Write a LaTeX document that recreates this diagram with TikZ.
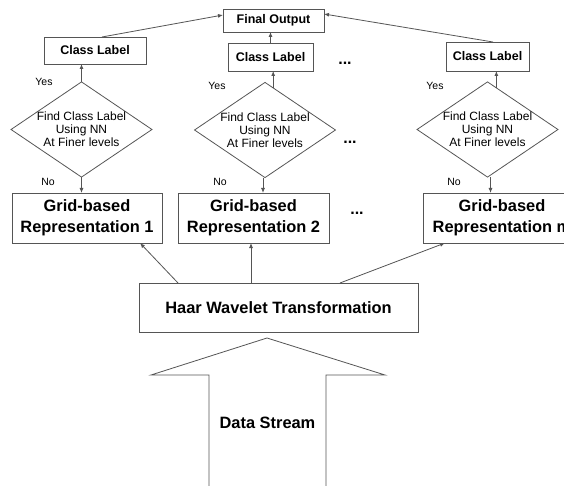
\documentclass[tikz,border=0pt]{standalone}
\usepackage{fontspec}
\setmainfont{Liberation Sans}
\usetikzlibrary{shapes.geometric,arrows.meta}
\definecolor{linecol}{RGB}{85,85,85}
\begin{document}
\begin{tikzpicture}[x=1pt,y=-1pt,
  every node/.style={inner sep=0pt, outer sep=0pt, text=black},
  box/.style={draw=linecol, line width=0.9pt, rectangle, align=center,
    font=\bfseries\fontsize{12.5}{14}\selectfont},
  bigbox/.style={box, font=\bfseries\fontsize{16.4}{21}\selectfont},
  decision/.style={draw=linecol, line width=0.8pt, diamond, aspect=1.48,
    minimum width=139pt, minimum height=94pt, align=center,
    font=\fontsize{12}{13}\selectfont},
  tag/.style={font=\fontsize{10.5}{12}\selectfont},
  dots/.style={font=\bfseries\fontsize{16}{18}\selectfont},
  link/.style={draw=linecol, line width=0.8pt, -{Latex[length=5pt,width=4pt]}},
]
\clip (0,0) rectangle (564,486);
\fill[white] (0,0) rectangle (564,486);

% top: final output and the three class labels
\node[box, minimum width=101pt, minimum height=23pt] (fo) at (273.5,20.5) {Final Output};
\node[box, minimum width=102pt, minimum height=27pt] (cl1) at (95,50.5) {Class Label};
\node[box, minimum width=85pt, minimum height=28pt] (cl2) at (270.5,57) {Class Label};
\node[box, minimum width=83pt, minimum height=29pt] (cl3) at (487.5,56.5) {Class Label};

% decisions
\node[decision] (d1) at (81.5,129.5) {Find Class Label\\Using NN\\At Finer levels};
\node[decision] (d2) at (265,130) {Find Class Label\\Using NN\\At Finer levels};
\node[decision] (d3) at (487.5,129.5) {Find Class Label\\Using NN\\At Finer levels};

% grid-based representations (the last one runs past the right edge)
\node[bigbox, minimum width=150pt, minimum height=50pt] (g1) at (87,218) {Grid-based\\Representation 1};
\node[bigbox, minimum width=151pt, minimum height=50pt] (g2) at (253.5,218) {Grid-based\\Representation 2};
\node[bigbox, minimum width=158pt, minimum height=50pt] (g3) at (502,218) {Grid-based\\Representation m};

% wavelet transform
\node[bigbox, minimum width=279pt, minimum height=49pt] (haar) at (278.5,307.5) {Haar Wavelet Transformation};

% incoming data stream arrow
\draw[linecol, line width=0.8pt] (209,492) -- (209,375) -- (151,375) -- (267,338)
  -- (385,375) -- (326,375) -- (326,492);
\node[font=\bfseries\fontsize{16.4}{18}\selectfont] (ds) at (267.5,423) {Data Stream};

% yes / no labels
\node[tag] (y1) at (44,82) {Yes};
\node[tag] (y2) at (217,86) {Yes};
\node[tag] (y3) at (435,86) {Yes};
\node[tag] (n1) at (48,182) {No};
\node[tag] (n2) at (220,182) {No};
\node[tag] (n3) at (454,182) {No};

% ellipses between columns
\node[dots] (e1) at (345,63) {...};
\node[dots] (e2) at (350,142) {...};
\node[dots] (e3) at (357,213) {...};

% class labels to final output
\draw[link] ([xshift=7pt]cl1.north) -- ([yshift=5.5pt]fo.west);
\draw[link] (cl2.north) -- (cl2.north |- fo.south);
\draw[link] ([xshift=5.5pt]cl3.north) -- ([yshift=6.5pt]fo.east);

% decisions: yes up, no down
\draw[link] (d1.north) -- (d1.north |- cl1.south);
\draw[link] (d2.79) -- (d2.79 |- cl2.south);
\draw[link] (d3.78) -- (d3.78 |- cl3.south);
\draw[link] (d1.south) -- (d1.south |- g1.north);
\draw[link] ([xshift=-2pt]d2.south) -- ([xshift=-2pt]d2.south |- g2.north);
\draw[link] ([xshift=3pt]d3.south) -- ([xshift=3pt]d3.south |- g3.north);

% transform feeds each representation
\draw[link] ([xshift=-100.5pt]haar.north) -- ([xshift=53pt]g1.south);
\draw[link] ([xshift=-27.5pt]haar.north) -- ([xshift=-27.5pt]haar.north |- g2.south);
\draw[link] ([xshift=61.5pt]haar.north) -- ([xshift=22pt]g3.south west);
\end{tikzpicture}
\end{document}
